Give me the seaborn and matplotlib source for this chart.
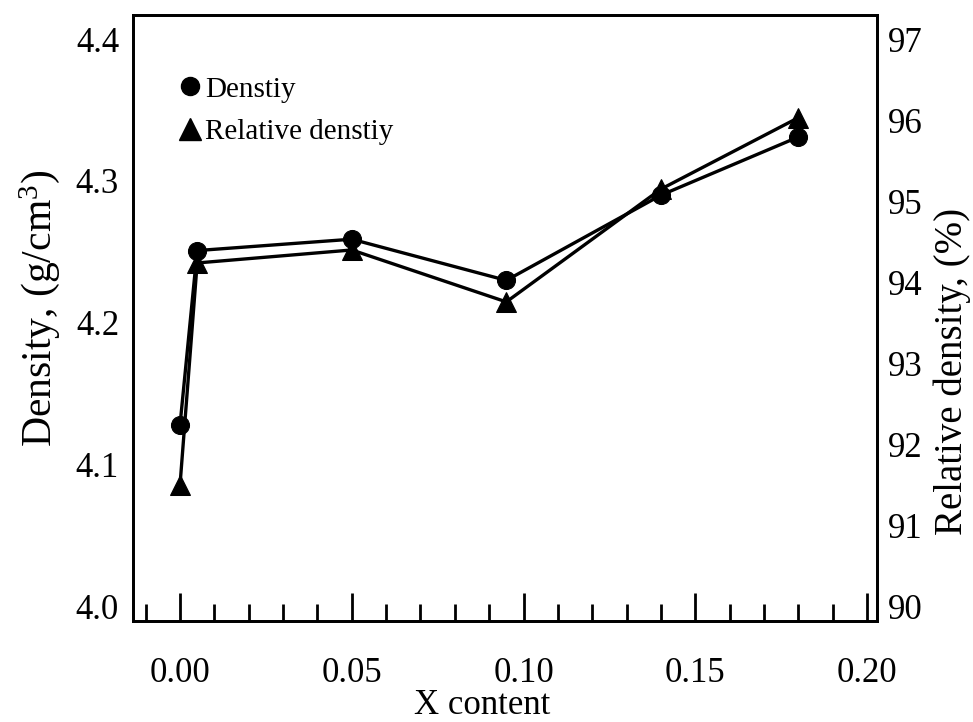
import matplotlib
matplotlib.use("Agg")
import matplotlib.pyplot as plt
from matplotlib.lines import Line2D
from matplotlib.ticker import MultipleLocator
import seaborn as sns
import pandas as pd

# ---- data ----
x_content = [0.000, 0.005, 0.050, 0.095, 0.140, 0.180]
density = [4.128, 4.251, 4.259, 4.230, 4.290, 4.331]          # g/cm3
relative_density = [91.50, 94.24, 94.40, 93.76, 95.15, 96.03]  # %
x_ticks = [0.00, 0.05, 0.10, 0.15, 0.20]
x_tick_labels = ["0.00", "0.05", "0.10", "0.15", "0.20"]
left_ticks = [4.0, 4.1, 4.2, 4.3, 4.4]
right_ticks = [90, 91, 92, 93, 94, 95, 96, 97]

df = pd.DataFrame({"x": x_content, "d": density, "r": relative_density})

sns.set_theme(style="white")
plt.rcParams["font.family"] = ["Liberation Serif", "DejaVu Serif"]
plt.rcParams["mathtext.fontset"] = "custom"
plt.rcParams["mathtext.rm"] = "Liberation Serif"
plt.rcParams["mathtext.it"] = "Liberation Serif:italic"
plt.rcParams["text.color"] = "black"
plt.rcParams["axes.labelcolor"] = "black"
plt.rcParams["xtick.color"] = "black"
plt.rcParams["ytick.color"] = "black"

fig = plt.figure(figsize=(9.73, 7.22), dpi=100)
ax = fig.add_axes([0.1367, 0.1399, 0.7646, 0.8393])
ax2 = ax.twinx()

sns.lineplot(data=df, x="x", y="d", ax=ax, color="black", marker="o",
             markersize=13, linewidth=2.4, markeredgecolor="black", legend=False)
sns.lineplot(data=df, x="x", y="r", ax=ax2, color="black", marker="^",
             markersize=14, linewidth=2.4, markeredgecolor="black", legend=False)

ax.set_xlim(-0.01368, 0.2029)
ax.set_ylim(3.9901, 4.4169)
ax2.set_ylim(89.827, 97.296)

ax.set_xticks(x_ticks)
ax.set_xticklabels(x_tick_labels)
ax.xaxis.set_minor_locator(MultipleLocator(0.01))
ax.set_yticks(left_ticks)
ax.set_yticklabels([f"{v:.1f}" for v in left_ticks])
ax2.set_yticks(right_ticks)
ax2.set_yticklabels([str(v) for v in right_ticks])

ax.tick_params(axis="x", which="major", direction="in", length=20, width=2,
               labelsize=25, pad=26, bottom=True, top=False,
               color="black", labelcolor="black")
ax.tick_params(axis="x", which="minor", direction="in", length=12, width=2,
               bottom=True, top=False, color="black")
ax.tick_params(axis="y", which="both", length=0, labelsize=25, pad=10,
               labelcolor="black")
ax2.tick_params(axis="y", which="both", length=0, labelsize=25, pad=8,
                labelcolor="black")

for a in (ax, ax2):
    for s in a.spines.values():
        s.set_color("black")
        s.set_linewidth(2.0)

ax.set_xlabel("X content", fontsize=25, color="black")
ax.xaxis.set_label_coords(0.469, -0.113)
ax.set_ylabel(r"Density, (g/cm$^{\mathrm{3}}$)", fontsize=30, color="black")
ax.yaxis.set_label_coords(-0.096, 0.516)
ax2.set_ylabel("Relative density, (%)", fontsize=28, color="black")
ax2.yaxis.set_label_coords(1.076, 0.411)

handles = [
    Line2D([], [], linestyle="none", marker="o", color="black", markersize=13),
    Line2D([], [], linestyle="none", marker="^", color="black", markersize=16),
]
leg = ax.legend(handles, ["Denstiy", "Relative denstiy"], loc="upper left",
                bbox_to_anchor=(0.065, 0.899), frameon=False, fontsize=21,
                handlelength=0.6, handletextpad=0.2, labelspacing=0.55,
                borderaxespad=0, borderpad=0)
for t in leg.get_texts():
    t.set_color("black")

fig.savefig("out.png", dpi=100)
